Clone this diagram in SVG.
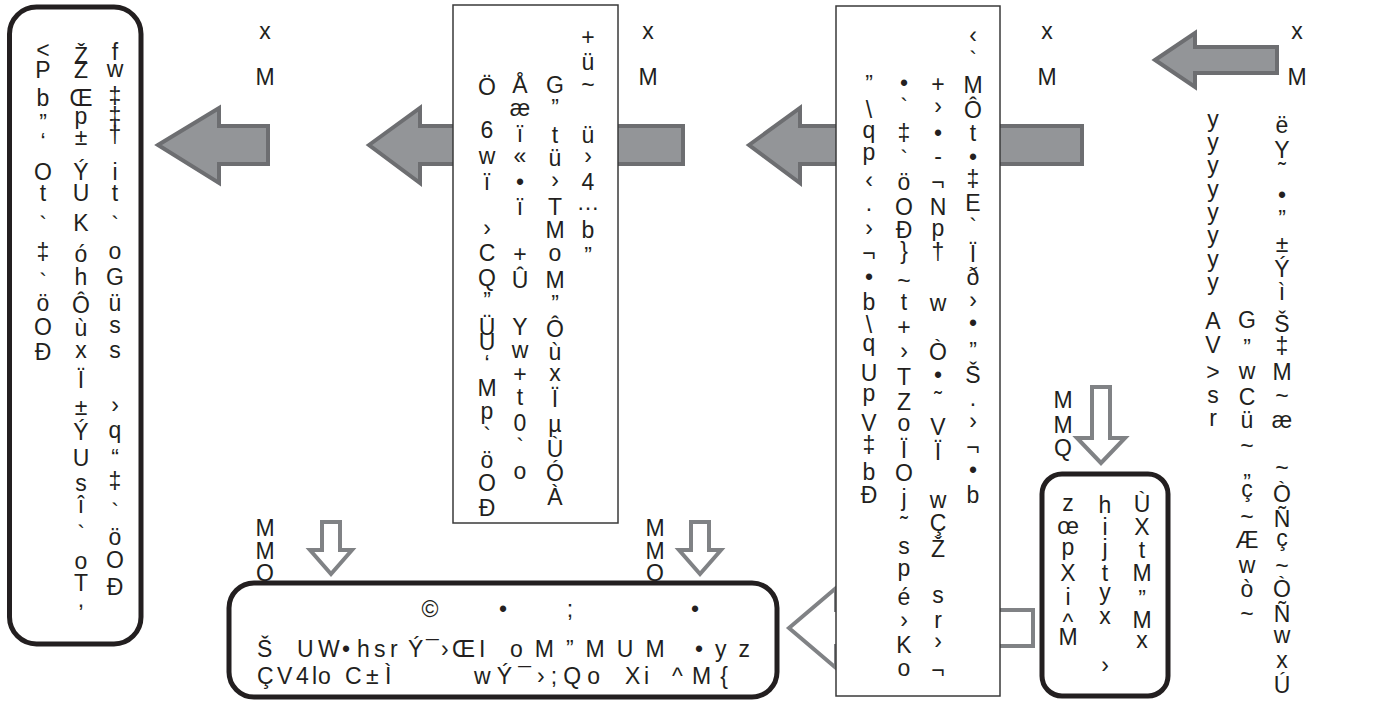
<svg xmlns="http://www.w3.org/2000/svg" width="1399" height="708" viewBox="0 0 1399 708">
<style>
.t{font-family:"Liberation Sans",Arial,sans-serif;font-size:23px;fill:#231f20;text-anchor:middle}
.ts{font-family:"Liberation Sans",Arial,sans-serif;font-size:23px;fill:#231f20}
.big{fill:#939598;stroke:#6d6e71;stroke-width:4;stroke-linejoin:miter}
.hol{fill:#ffffff;stroke:#808285;stroke-width:4;stroke-linejoin:miter}
.rb{fill:#ffffff;stroke:#231f20;stroke-width:5}
.sb{fill:#ffffff;stroke:#3a3a3a;stroke-width:1.5}
</style>
<rect width="1399" height="708" fill="#ffffff"/>
<g id="connectors">
<polygon class="big" points="158,145 219,108 219,126 268,126 268,164 219,164 219,183"/>
<polygon class="big" points="369,145 420,108 420,126 683,126 683,164 420,164 420,183"/>
<polygon class="big" points="749,145 800,108 800,126 1082,126 1082,164 800,164 800,183"/>
<polygon class="big" points="1155,60 1195,33 1195,47 1277,47 1277,73 1195,73 1195,87"/>
<polygon class="hol" points="789,628 836,588 836,610 1033,610 1033,646 836,646 836,668"/>
<polygon class="hol" points="1092,387 1110,387 1110,438 1125,438 1101,463 1077,438 1092,438"/>
<polygon class="hol" points="322,522 340,522 340,550 352,550 331,574 310,550 322,550"/>
<polygon class="hol" points="691,522 709,522 709,550 721,550 700,574 679,550 691,550"/>
</g>
<g id="labels">
<text class="t" x="265 265" y="39 85">xM</text>
<text class="t" x="648 648" y="39 85">xM</text>
<text class="t" x="1047 1047" y="39 85">xM</text>
<text class="t" x="1297 1297" y="39 85">xM</text>
<text class="t" x="1063 1063 1063" y="408 433 456">MMQ</text>
<text class="t" x="265 265 265" y="536 559 581">MMQ</text>
<text class="t" x="655 655 655" y="536 559 581">MMQ</text>
</g>
<g id="node-left">
<rect class="rb" x="9.5" y="7" width="131.5" height="637" rx="27"/>
<text class="t" x="43 43 43 43 43 43 43 43 43 43 43 43 43" y="58 78 106 131 150 180 201 233 260 290 311 335 360">&lt;Pb&#x201D;&#x2018;Ot`&#x2021;`&#xF6;O&#x110;</text>
<text class="t" x="81 81 81 81 81 81 81 81 81 81 81 81 81 81 81 81 81 81 81 81 81 81 81" y="64 78 106 124 145 180 201 231 262 285 313 336 358 388 415 440 466 491 513 542 569 591 607">&#x17D;Z&#x152;p&#xB1;&#xDD;UK&#xF3;h&#xD4;&#xF9;x&#xCF;&#xB1;&#xDD;Us&#xEE;`oT,</text>
<text class="t" x="115 115 115 115 115 115 115 115 115 115 115 115 115 115 115 115 115 115 115 115 115" y="60 77 104 124 143 180 201 233 259 285 311 333 358 413 438 466 489 520 545 568 595">fw&#x2021;&#x2021;&#x2020;it`oG&#xFC;ss&#x203A;q&#x201C;&#x2021;`&#xF6;O&#x110;</text>
</g>
<g id="node-box2">
<rect class="sb" x="453" y="5" width="165" height="518"/>
<text class="t" x="487 487 487 487 487 487 487 487 487 487 487 487 487 487 487 487 487" y="95 138 164 190 236 261 286 309 335 350 372 396 419 444 468 491 516">&#xD6;6w&#xEF;&#x203A;CQ&#x201D;&#xDC;U&#x2018;Mp`&#xF6;O&#x110;</text>
<text class="t" x="520 520 520 520 520 520 520 520 520 520 520 520 520 520 520" y="93 116 142 164 190 215 262 288 335 358 382 405 431 455 479">&#xC5;&#xE6;&#xEF;&#xAB;&#x2022;&#xEF;+&#xDB;Yw+t0`o</text>
<text class="t" x="555 555 555 555 555 555 555 555 555 555 555 555 555 555 555 555 555 555" y="93 116 143 166 188 215 238 261 288 312 337 360 381 407 432 457 481 505">G&#x201D;t&#xFC;&#x203A;TMoM&#x201D;&#xD4;&#xF9;x&#xCF;&#xB5;&#xD9;&#xD3;&#xC0;</text>
<text class="t" x="588 588 588 588 588 588 588 588 588" y="45 70 93 143 164 190 210 238 264">+&#xFC;~&#xFC;&#x203A;4&#x2026;b&#x201D;</text>
</g>
<g id="node-box3">
<rect class="sb" x="836" y="6" width="164" height="690"/>
<text class="t" x="869 869 869 869 869 869 869 869 869 869 869 869 869 869 869 869 869 869" y="92 118 138 160 188 211 236 261 285 310 333 351 381 401 431 453 480 503">&#x201D;\qp&#x2039;.&#x203A;&#xAC;&#x2022;b\qUpV&#x2021;b&#x110;</text>
<text class="t" x="904 904 904 904 904 904 904 904 904 904 904 904 904 904 904 904 904 904 904 904 904 904 904 904 904" y="91 115 141 167 190 215 238 259 289 310 335 359 385 410 431 458 481 506 533 554 576 605 628 653 676">&#x2022;`&#x2021;`&#xF6;O&#x110;}~t+&#x203A;TZo&#xCF;Oj&#x2DC;sp&#xE9;&#x203A;Ko</text>
<text class="t" x="938 938 938 938 938 938 938 938 938 938 938 938 938 938 938 938 938 938 938 938 938" y="92 114 141 164 190 215 236 260 311 360 383 408 435 460 508 531 557 603 628 649 678">+&#x203A;&#x2022;-&#xAC;Np&#x2020;w&#xD2;&#x2022;&#x2DC;V&#xCF;w&#xC7;&#x17D;sr&#x203A;&#xAC;</text>
<text class="t" x="973 973 973 973 973 973 973 973 973 973 973 973 973 973 973 973 973 973 973 973" y="43 68 93 118 141 165 187 211 235 262 285 308 331 359 383 406 429 455 478 503">&#x2039;`M&#xD4;t&#x2022;&#x2021;E`&#xCF;&#xF0;&#x203A;&#x2022;&#x201D;&#x160;.&#x203A;&#xAC;&#x2022;b</text>
</g>
<g id="node-box4">
<rect class="rb" x="1042" y="474" width="126" height="222" rx="20"/>
<text class="t" x="1068 1068 1068 1068 1068 1068 1068" y="511 534 555 581 605 630 645">z&#x153;pXi^M</text>
<text class="t" x="1105 1105 1105 1105 1105 1105 1105" y="513 535 556 581 600 624 673">hijtyx&#x203A;</text>
<text class="t" x="1142 1142 1142 1142 1142 1142 1142" y="512 535 558 581 607 628 648">&#xD9;XtM&#x201D;Mx</text>
</g>
<g id="node-right">
<text class="t" x="1213 1213 1213 1213 1213 1213 1213 1213 1213 1213 1213 1213 1213" y="127 150 173 197 220 243 267 290 329 353 380 403 426">yyyyyyyyAV&gt;sr</text>
<text class="t" x="1247 1247 1247 1247 1247 1247 1247 1247 1247 1247 1247 1247 1247" y="328 356 379 405 428 454 491 497 525 548 573 597 622">G&#x201D;wC&#xFC;~&#x201D;&#xE7;~&#xC6;w&#xF2;~</text>
<text class="t" x="1282 1282 1282 1282 1282 1282 1282 1282 1282 1282 1282 1282 1282 1282 1282 1282 1282 1282 1282 1282 1282 1282 1282" y="133 158 179 203 227 252 277 300 332 354 380 404 428 476 502 527 546 574 597 622 643 668 693">&#xEB;Y&#x2DC;&#x2022;&#x201D;&#xB1;&#xDD;&#xEC;&#x160;&#x2021;M~&#xE6;~&#xD2;&#xD1;&#xE7;~&#xD2;&#xD1;wx&#xDA;</text>
</g>
<g id="node-bottom">
<rect class="rb" x="229" y="583" width="548" height="114" rx="25"/>
<text class="t" x="430 503 570 695" y="617 617 617 617">&#xA9;&#x2022;;&#x2022;</text>
<text class="ts" x="257 297 318 342 357 374 390 408 426 441 452 479" y="657">&#x160;UW&#x2022;hsr&#xDD;&#xAF;&#x203A;&#x152;I</text>
<text class="ts" x="510" y="657" textLength="240" lengthAdjust="spacing" xml:space="preserve">oM&#x201D;MUM &#x2022;yz</text>
<text class="ts" x="257 277 296 312 318 345 366 385" y="684">&#xC7;V4loC&#xB1;&#xCC;</text>
<text class="ts" x="474" y="684" textLength="126" lengthAdjust="spacing">w&#xDD;&#xAF;&#x203A;;Qo</text>
<text class="ts" x="625 644" y="684">Xi</text>
<text class="ts" x="672" y="684" textLength="56" lengthAdjust="spacing">^M{</text>
</g>
</svg>
